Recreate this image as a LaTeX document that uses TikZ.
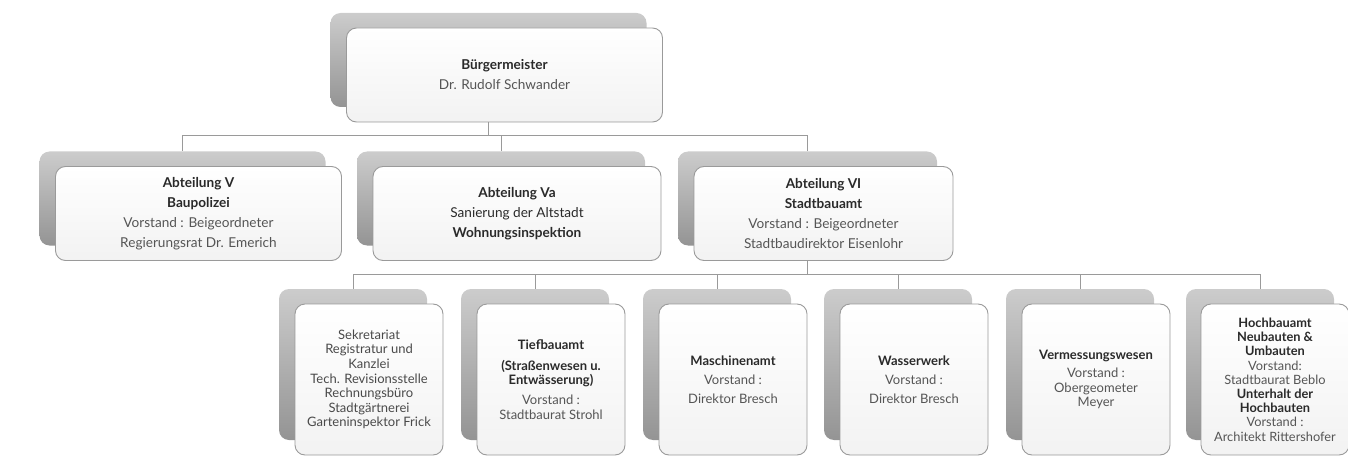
\documentclass[tikz,border=0pt]{standalone}
\usepackage{fontspec}
\setmainfont{Lato}
\usepackage{tikz}
\usetikzlibrary{calc, positioning, backgrounds}

\definecolor{boxline}{HTML}{9A9A9A}
\definecolor{darktext}{HTML}{2A2A2A}
\definecolor{softtext}{HTML}{555555}
\newcommand{\titel}[1]{{\color{darktext}\bfseries #1}}

\begin{document}
\begin{tikzpicture}[x=1pt,y=-1pt,
	back/.style={rounded corners=10pt,top color=black!20,bottom color=black!42,minimum height=94pt},
	card/.style={draw=boxline,line width=0.9pt,rounded corners=10pt,top color=white,bottom color=black!5,
		minimum height=94pt,align=center,text=softtext,font=\fontsize{13.6}{20}\selectfont},
	lowback/.style={back,minimum width=148pt,minimum height=151pt},
	lowcard/.style={card,minimum width=148pt,minimum height=151pt,font=\fontsize{13}{14.6}\selectfont},
	loose/.style={font=\fontsize{13}{19}\selectfont},
	link/.style={draw=boxline,line width=1pt},
	elbow/.style={to path={-| (\tikztotarget)}}]
	\tikzset{every node/.style={inner sep=0pt}}
	\useasboundingbox (0,0) rectangle (1348,457);

	\node[back,minimum width=316pt] (bmb) at (488.5,60) {};
	\node[card,minimum width=316pt] (bm) at ($(bmb)+(16,15)$) {\titel{Bürgermeister}\\Dr. Rudolf Schwander};

	\node[back,minimum width=286pt] (a5b) at (182.5,198.5) {};
	\node[card,minimum width=286pt] (a5) at ($(a5b)+(16,15)$) {\titel{Abteilung V}\\\titel{Baupolizei}\\Vorstand : Beigeordneter\\Regierungsrat Dr. Emerich};
	\node[back,minimum width=288pt] (vab) at (501,198.5) {};
	\node[card,minimum width=288pt] (va) at ($(vab)+(16,15)$) {\titel{Abteilung Va}\\{\color{darktext}Sanierung der Altstadt}\\\titel{Wohnungsinspektion}};
	\node[back,minimum width=259pt] (a6b) at (807.5,198.5) {};
	\node[card,minimum width=259pt] (a6) at ($(a6b)+(16,15)$) {\titel{Abteilung VI}\\\titel{Stadtbauamt}\\Vorstand : Beigeordneter\\Stadtbaudirektor Eisenlohr};

	\node[lowback] (sekb) at (353,364.5) {};
	\node[lowcard,text=darktext!85] (sek) at ($(sekb)+(16,15)$) {Sekretariat\\Registratur und\\Kanzlei\\Tech. Revisionsstelle\\Rechnungsbüro\\Stadtgärtnerei\\Garteninspektor Frick};
	\node[lowback] (tiefb) at (535,364.5) {};
	\node[lowcard] (tief) at ($(tiefb)+(16,15)$) {\titel{Tiefbauamt}\\[6pt]\titel{(Straßenwesen u.}\\\titel{Entwässerung)}\\[5pt]Vorstand :\\Stadtbaurat Strohl};
	\node[lowback] (maschb) at (717,364.5) {};
	\node[lowcard,loose] (masch) at ($(maschb)+(16,15)$) {\titel{Maschinenamt}\\Vorstand :\\Direktor Bresch};
	\node[lowback] (wasb) at (898,364.5) {};
	\node[lowcard,loose] (was) at ($(wasb)+(16,15)$) {\titel{Wasserwerk}\\Vorstand :\\Direktor Bresch};
	\node[lowback] (vermb) at (1080,364.5) {};
	\node[lowcard] (verm) at ($(vermb)+(16,15)$) {\titel{Vermessungswesen}\\[3.5pt]Vorstand :\\Obergeometer\\Meyer};
	\node[lowback] (hochb) at (1260,364.5) {};
	\node[lowcard,font=\fontsize{12.8}{14.2}\selectfont] (hoch) at ($(hochb)+(15,15)$) {\titel{Hochbauamt}\\\titel{Neubauten \&}\\\titel{Umbauten}\\Vorstand:\\Stadtbaurat Beblo\\\titel{Unterhalt der}\\\titel{Hochbauten}\\Vorstand :\\Architekt Rittershofer};

	\begin{scope}[on background layer]
		\coordinate (j1) at (bmb |- 0,136);
		\coordinate (j2) at (a6b |- 0,274);
		\path[link]
			(bmb)
				edge (j1)
			(j1)
				edge[elbow] (a5b)
				edge[elbow] (vab)
				edge[elbow] (a6b)
			(a6b)
				edge (j2)
			(j2)
				edge[elbow] (sekb)
				edge[elbow] (tiefb)
				edge[elbow] (maschb)
				edge[elbow] (wasb)
				edge[elbow] (vermb)
				edge[elbow] (hochb);
	\end{scope}
\end{tikzpicture}
\end{document}
